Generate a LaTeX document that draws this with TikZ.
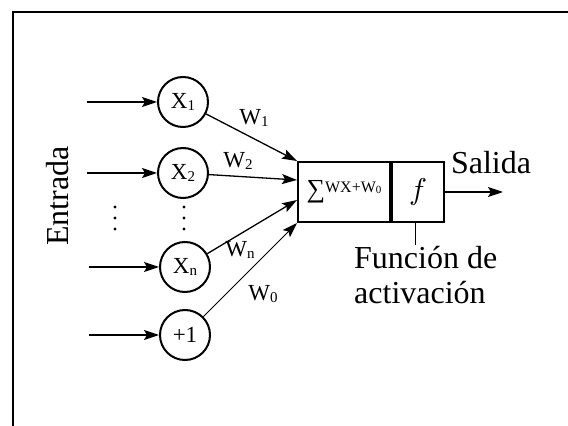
\documentclass[tikz,border=0pt]{standalone}
\usepackage{fontspec}
\setmainfont{Liberation Serif}
\usepackage{tikz}
\usetikzlibrary{arrows.meta,positioning}
\newcommand{\lblfont}{\fontsize{32}{35}\selectfont}
\newcommand{\subsize}{\fontsize{15}{15}\selectfont}
\newcommand{\smallsub}[1]{\raisebox{-1.5pt}{\subsize #1}}
\tikzset{
  neuron/.style={draw,circle,line width=2pt,minimum size=50pt,inner sep=0pt,font=\fontsize{23}{23}\selectfont},
  sumbox/.style={draw,line width=2pt,minimum height=60pt,inner sep=0pt},
  weight/.style={font=\fontsize{23}{23}\selectfont},
  flow/.style={-{Stealth[length=15pt,width=10pt,inset=3pt]},line width=1.3pt},
  thinflow/.style={flow,line width=0.9pt},
  tag/.style={font=\lblfont,inner sep=0pt}
}
\begin{document}
\begin{tikzpicture}[x=1pt,y=1pt]
\useasboundingbox (0,0) rectangle (568,426);
\draw[line width=2.2pt] (13,0) -- (13,414) -- (568,414);
% input neurons
\node[neuron] (x1) at (183,324) {X\smallsub{1}};
\node[neuron] (x2) at (183,253) {X\smallsub{2}};
\node[neuron] (xn) at (185,159) {X\smallsub{n}};
\node[neuron] (bias) at (185,91) {+1};
\coordinate (in1) at (87,324);
\coordinate (in2) at (87,253);
\coordinate (inn) at (89,159);
\coordinate (inb) at (89,91);
\draw[flow] (in1) -- (x1);
\draw[flow] (in2) -- (x2);
\draw[flow] (inn) -- (xn);
\draw[flow] (inb) -- (bias);
\foreach \dx in {115,184}
  \foreach \dy in {219,208,197}
    \fill (\dx,\dy) circle (1.6pt);
\node[tag,rotate=90] (entrada) at (58,230) {Entrada};
% sum and activation
\node[sumbox,minimum width=92pt] (sum) at (344,234) {};
\node[sumbox,minimum width=52pt,right=0pt of sum] (act) {\scalebox{3}{$f$}};
\node[inner sep=0pt] (sumtxt) at (sum.center) {\fontsize{26}{26}\selectfont\symbol{"2211}\raisebox{5pt}{\fontsize{16}{16}\selectfont WX+W\raisebox{-1pt}{\fontsize{11}{11}\selectfont 0}}};
\draw[flow] (x1) -- (sum.north west);
\draw[flow] (x2) -- ([yshift=12pt]sum.west);
\draw[flow] (xn) -- ([yshift=-8pt]sum.west);
\draw[thinflow] (bias) -- (sum.south west);
\node[weight] (w1) at (254,308) {W\smallsub{1}};
\node[weight] (w2) at (238,265) {W\smallsub{2}};
\node[weight] (wn) at (240,176) {W\smallsub{n}};
\node[weight] (w0) at (263,132) {W\smallsub{0}};
% output
\coordinate (out) at (503,234);
\draw[flow] (act) -- (out);
\node[tag] (salida) at (491,263) {Salida};
\coordinate (tick) at (415,181);
\draw[line width=1pt] (act.south -| tick) -- (tick);
\node[tag,align=left,anchor=north west] (funcion) at (354,180) {Funci\'on de\\activaci\'on};
\end{tikzpicture}
\end{document}
